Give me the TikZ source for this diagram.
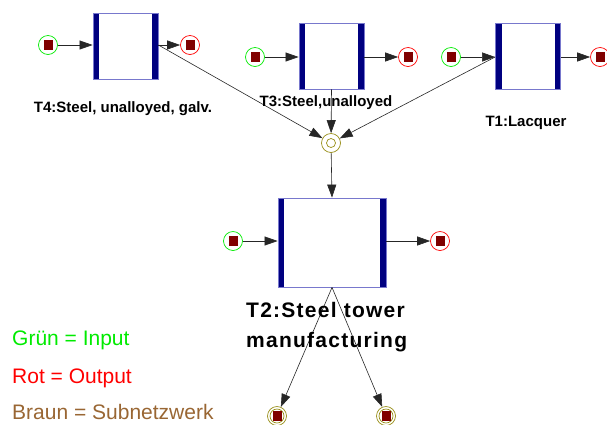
\documentclass[tikz,border=0pt]{standalone}
\usepackage{fontspec}
\setmainfont{Liberation Sans}
\usetikzlibrary{arrows.meta, positioning}
\definecolor{navyblue}{RGB}{0,0,128}
\definecolor{edgeblue}{RGB}{120,120,205}
\definecolor{placegreen}{RGB}{0,235,0}
\definecolor{placered}{RGB}{255,0,0}
\definecolor{subolive}{RGB}{150,140,20}
\definecolor{tokenred}{RGB}{128,0,0}
\definecolor{legendbrown}{RGB}{153,102,51}
\newcommand{\token}{\textcolor{tokenred}{\rule{9pt}{10pt}}}

\begin{document}
\begin{tikzpicture}[x=1pt, y=-1pt,
  trans/.style={draw=edgeblue, line width=0.8pt, minimum width=65pt, minimum height=66pt, inner sep=0pt,
    path picture={
      \fill[navyblue] (path picture bounding box.south west) rectangle ([xshift=6pt]path picture bounding box.north west);
      \fill[navyblue] (path picture bounding box.south east) rectangle ([xshift=-6pt]path picture bounding box.north east);}},
  place/.style={circle, minimum size=19pt, inner sep=0pt, line width=0.7pt},
  inplace/.style={place, draw=placegreen},
  outplace/.style={place, draw=placered},
  subplace/.style={place, draw=subolive,
    path picture={\draw[subolive, line width=0.7pt] (path picture bounding box.center) circle (7pt);}},
  junction/.style={place, draw=subolive,
    path picture={\draw[subolive, line width=0.7pt] (path picture bounding box.center) circle (4.5pt);}},
  arr/.style={-{Triangle[length=13pt,width=9pt]}, line width=0.6pt, black!85},
  lab/.style={font=\fontsize{15}{18}\selectfont\bfseries, inner sep=0pt},
  biglab/.style={font=\fontsize{21}{30}\selectfont\bfseries\addfontfeatures{LetterSpace=6}, inner sep=0pt, align=left},
  legend/.style={font=\fontsize{21}{25}\selectfont, inner sep=0pt, anchor=base west}]
\useasboundingbox (0,0) rectangle (607,424);

% upper transitions
\node[trans] (t4) at (125.5,46) {};
\node[trans] (t3) at (331.5,56) {};
\node[trans] (t1) at (528,56) {};
% main transition
\node[trans, minimum width=108pt, minimum height=89pt] (t2) at (332,242.5) {};

% places
\node[inplace] (t4in) at (48,45) {\token};
\node[outplace] (t4out) at (190,45) {\token};
\node[inplace] (t3in) at (255,57) {\token};
\node[outplace] (t3out) at (408,57) {\token};
\node[inplace] (t1in) at (451,57) {\token};
\node[outplace] (t1out) at (600,57) {\token};
\node[inplace] (t2in) at (233,241) {\token};
\node[outplace] (t2out) at (440,241) {\token};
\node[junction] (j) at (331,143) {};
\node[subplace] (sub1) at (277,416) {\token};
\node[subplace] (sub2) at (386,416) {\token};

% arcs
\draw[arr] (t4in) -- (t4in -| t4.west);
\draw[arr] (t4out -| t4.east) -- (t4out);
\draw[arr] (t3in) -- (t3in -| t3.west);
\draw[arr] (t3out -| t3.east) -- (t3out);
\draw[arr] (t1in) -- (t1in -| t1.west);
\draw[arr] (t1out -| t1.east) -- (t1out);
\draw[arr] (t2in) -- (t2in -| t2.west);
\draw[arr] (t2out -| t2.east) -- (t2out);
\draw[arr] (t4out -| t4.east) -- (j);
\draw[arr] (t3.south) -- (j);
\draw[arr] (t1in -| t1.west) -- (j);
\draw[arr] (j) -- (t2.north);
\draw[arr] (t2.south) -- (sub1);
\draw[arr] (t2.south) -- (sub2);

% labels
\node[lab, anchor=base] (t4lab) at (123,112) {T4:Steel, unalloyed, galv.};
\node[lab, anchor=base] (t3lab) at (326,106) {T3:Steel,unalloyed};
\node[lab, anchor=base] (t1lab) at (526,126) {T1:Lacquer};
\node[biglab, anchor=north west] (t2lab) at (246,302) {T2:Steel tower\\manufacturing};

% legend
\node[legend, text=placegreen] (lgin) at (12,345) {Grün = Input};
\node[legend, text=placered] (lgout) at (12,383) {Rot = Output};
\node[legend, text=legendbrown] (lgsub) at (12,419) {Braun = Subnetzwerk};
\end{tikzpicture}
\end{document}
